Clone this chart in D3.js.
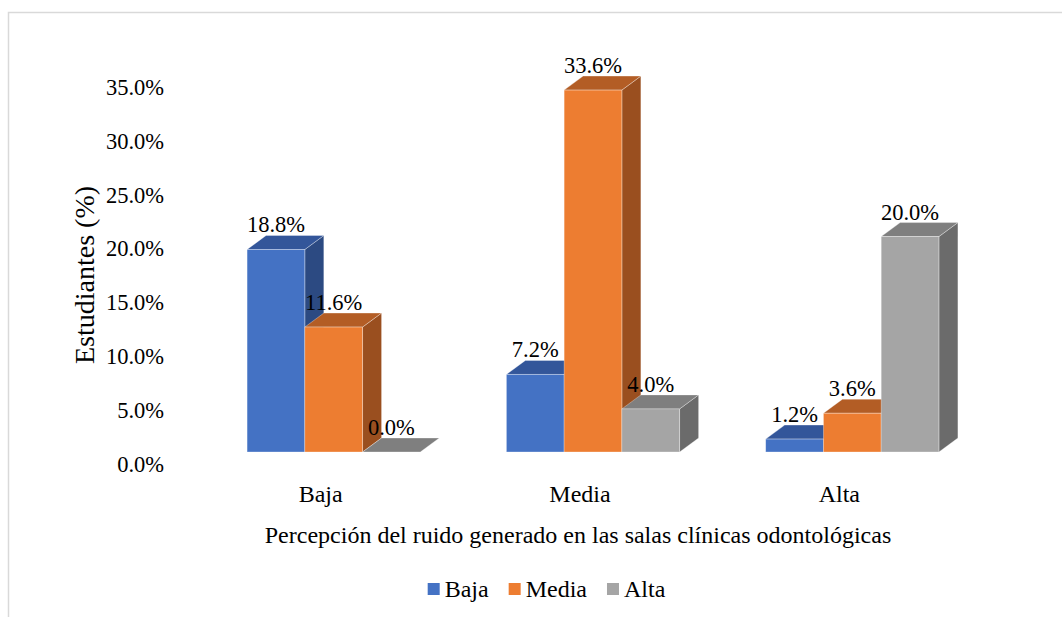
<!DOCTYPE html>
<html>
<head>
<meta charset="utf-8">
<script src="https://cdn.jsdelivr.net/npm/d3@7"></script>
<style>
  body { margin: 0; background: #fff; }
</style>
</head>
<body>
<div id="my_dataviz"></div>
<script>

// categories on the x axis and the series of each group
var categorias = ["Baja", "Media", "Alta"];
var series = ["Baja", "Media", "Alta"];

// values (%) of each series, one per category
var valoresBaja = [18.8, 7.2, 1.2];
var valoresMedia = [11.6, 33.6, 3.6];
var valoresAlta = [0.0, 4.0, 20.0];

var yTicks = [0, 5, 10, 15, 20, 25, 30, 35];

// colours: front, top and side face of each series
var colorFrente = ["#4472C4", "#ED7D31", "#A5A5A5"];
var colorTapa = ["#33569a", "#b35d25", "#7f7f7f"];
var colorLado = ["#2c4a82", "#9a4f1f", "#6b6b6b"];

var valores = [valoresBaja, valoresMedia, valoresAlta];

var fuente = "'Liberation Serif', 'Times New Roman', Times, serif";
var width = 1062, height = 617;
// depth of the 3d columns
var dx = 19, dy = 14;

var svg = d3.select("#my_dataviz")
    .append("svg")
    .attr("width", width)
    .attr("height", height)
    .style("font-family", fuente);

// chart border (right and bottom fall outside the picture)
svg.append("rect")
    .attr("x", 8.5)
    .attr("y", 12.5)
    .attr("width", 1200)
    .attr("height", 800)
    .style("fill", "none")
    .style("stroke", "#d9d9d9")
    .style("stroke-width", 1.5);

// scales
var y = d3.scaleLinear()
    .domain([0, 35])
    .range([452, 75]);

var x0 = d3.scaleBand()
    .domain(categorias)
    .range([203, 983])
    .paddingInner(0.332)
    .paddingOuter(0.17);

var x1 = d3.scaleBand()
    .domain(series)
    .range([0, x0.bandwidth()])
    .padding(0);

// y axis tick labels (sit a little below the front plane)
svg.append("g")
    .selectAll("text")
    .data(yTicks)
    .enter()
    .append("text")
    .attr("x", 164)
    .attr("y", function (d) { return y(d) + 12; })
    .attr("dy", "0.35em")
    .attr("text-anchor", "end")
    .style("font-family", fuente)
    .style("font-size", "22.5px")
    .text(function (d) { return d3.format(".1f")(d) + "%"; });

// build the bars, left to right so nearer faces cover the sides
var barras = [];
categorias.forEach(function (c, i) {
    series.forEach(function (s, j) {
        barras.push({ cat: c, serie: s, j: j, v: valores[j][i] });
    });
});

var g = svg.append("g");

barras.forEach(function (d) {
    var xl = x0(d.cat) + x1(d.serie);
    var xr = xl + x1.bandwidth();
    var yt = y(d.v);
    var yb = y(0);

    // side face
    g.append("path")
        .attr("d", "M" + xr + "," + yt + "L" + (xr + dx) + "," + (yt - dy) +
            "L" + (xr + dx) + "," + (yb - dy) + "L" + xr + "," + yb + "Z")
        .style("fill", colorLado[d.j])
        .style("stroke", "rgba(255,255,255,0.45)")
        .style("stroke-width", 0.7);

    // top face
    g.append("path")
        .attr("d", "M" + xl + "," + yt + "L" + xr + "," + yt +
            "L" + (xr + dx) + "," + (yt - dy) + "L" + (xl + dx) + "," + (yt - dy) + "Z")
        .style("fill", colorTapa[d.j])
        .style("stroke", "rgba(255,255,255,0.45)")
        .style("stroke-width", 0.7);

    // front face
    g.append("rect")
        .attr("x", xl)
        .attr("y", yt)
        .attr("width", x1.bandwidth())
        .attr("height", yb - yt)
        .style("fill", colorFrente[d.j])
        .style("stroke", "rgba(255,255,255,0.45)")
        .style("stroke-width", 0.7);
});

// value labels
svg.append("g")
    .selectAll("text")
    .data(barras)
    .enter()
    .append("text")
    .attr("x", function (d) { return x0(d.cat) + x1(d.serie) + x1.bandwidth() / 2; })
    .attr("y", function (d) { return y(d.v) - dy - 3; })
    .attr("text-anchor", "middle")
    .style("font-family", fuente)
    .style("font-size", "22.5px")
    .text(function (d) { return d3.format(".1f")(d.v) + "%"; });

// category labels
svg.append("g")
    .selectAll("text")
    .data(categorias)
    .enter()
    .append("text")
    .attr("x", function (d) { return x0(d) + x0.bandwidth() / 2 - 13; })
    .attr("y", 494)
    .attr("dy", "0.35em")
    .attr("text-anchor", "middle")
    .style("font-family", fuente)
    .style("font-size", "24px")
    .text(function (d) { return d; });

// x axis title
svg.append("text")
    .attr("x", 578)
    .attr("y", 535)
    .attr("dy", "0.35em")
    .attr("text-anchor", "middle")
    .style("font-family", fuente)
    .style("font-size", "24px")
    .text("Percepción del ruido generado en las salas clínicas odontológicas");

// y axis title
svg.append("text")
    .attr("transform", "translate(84,275) rotate(-90)")
    .attr("dy", "0.35em")
    .attr("text-anchor", "middle")
    .style("font-family", fuente)
    .style("font-size", "28px")
    .text("Estudiantes (%)");

// legend
var legend = svg.append("g");
var xPos = 0;
series.forEach(function (s, j) {
    var item = legend.append("g").attr("transform", "translate(" + xPos + ",0)");
    item.append("rect")
        .attr("x", 0)
        .attr("y", -6)
        .attr("width", 12)
        .attr("height", 12)
        .style("fill", colorFrente[j]);
    var t = item.append("text")
        .attr("x", 17)
        .attr("y", 0)
        .attr("dy", "0.35em")
        .style("font-family", fuente)
        .style("font-size", "24px")
        .text(s);
    xPos += 17 + t.node().getComputedTextLength() + 20;
});
var legendWidth = xPos - 20;
legend.attr("transform", "translate(" + (546.5 - legendWidth / 2) + ",589)");

</script>
</body>
</html>
